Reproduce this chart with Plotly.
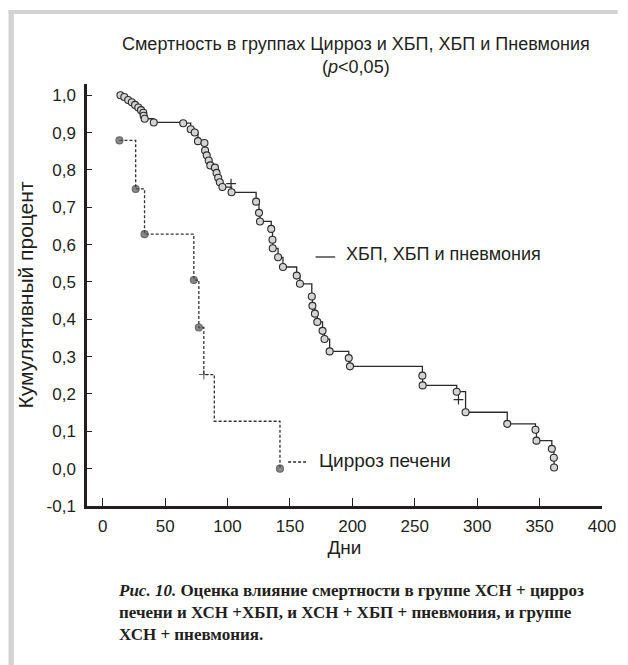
import plotly.graph_objects as go

# ---------------- data ----------------
# ХБП, ХБП и пневмония (Kaplan-Meier: day of event, cumulative survival after event)
ckd_days = [14.2, 17.3, 20.4, 23.3, 25.9, 28.5, 30.7, 32.5, 32.8, 33.6, 40.9,
            64.5, 70.5, 73.7, 76.3, 81.5, 82.0, 83.3, 84.9, 86.2, 89.9, 91.2,
            92.5, 93.8, 95.9, 103.2, 122.9, 125.2, 126.0, 135.0, 136.0, 136.2,
            140.5, 144.4, 155.4, 158.0, 167.5, 168.0, 170.0, 171.9, 176.1,
            177.7, 181.8, 197.1, 198.1, 256.1, 256.3, 283.6, 290.7, 324.1,
            346.7, 347.5, 359.8, 361.4, 361.6]
ckd_surv = [1.000, 0.995, 0.987, 0.981, 0.974, 0.967, 0.960, 0.953, 0.945, 0.937,
            0.927, 0.925, 0.909, 0.900, 0.877, 0.872, 0.852, 0.839, 0.825, 0.812,
            0.806, 0.792, 0.779, 0.767, 0.754, 0.740, 0.715, 0.685, 0.662, 0.642,
            0.613, 0.590, 0.566, 0.540, 0.517, 0.495, 0.461, 0.436, 0.415, 0.393,
            0.369, 0.347, 0.314, 0.296, 0.274, 0.249, 0.223, 0.206, 0.151, 0.120,
            0.104, 0.075, 0.053, 0.029, 0.003]
ckd_censored_days = [102.8, 285.0]
ckd_censored_surv = [0.763, 0.185]

# Цирроз печени
cir_days = [13.4, 26.4, 33.5, 73.0, 77.0, 81.0, 89.4, 142.0]
cir_surv = [0.879, 0.749, 0.628, 0.505, 0.378, 0.252, 0.127, 0.000]
cir_symbols = ["circle", "circle", "circle", "circle", "circle", "cross-thin", None, "circle"]

x_ticks = [0, 50, 100, 150, 200, 250, 300, 350, 400]
y_ticks = [-0.1, 0.0, 0.1, 0.2, 0.3, 0.4, 0.5, 0.6, 0.7, 0.8, 0.9, 1.0]
y_tick_text = ["-0,1", "0,0", "0,1", "0,2", "0,3", "0,4", "0,5", "0,6", "0,7", "0,8", "0,9", "1,0"]

title_text = "Смертность в группах Цирроз и ХБП, ХБП и Пневмония<br>(<i>p</i><0,05)"
x_title = "Дни"
y_title = "Кумулятивный процент"
legend_ckd = "ХБП, ХБП и пневмония"
legend_cir = "Цирроз печени"
caption = ("<b><i>Рис. 10.</i> Оценка влияние смертности в группе ХСН + цирроз<br>"
           "печени и ХСН +ХБП, и ХСН + ХБП + пневмония, и группе<br>"
           "ХСН + пневмония.</b>")

# ---------------- layout geometry ----------------
W, H = 628, 665
L, R, T, B = 87, 16, 84, 159
PW, PH = W - L - R, H - T - B

def px(x):
    return (x - L) / PW

def py(y):
    return (H - B - y) / PH

INK = "#231f20"
SANS = "Liberation Sans, Arial, sans-serif"

fig = go.Figure()

# Cirrhosis curve (dashed)
fig.add_trace(go.Scatter(
    x=cir_days, y=cir_surv, mode="lines", line_shape="hv",
    line=dict(color="#333333", width=1.3, dash="3px,2px"),
    showlegend=False, hoverinfo="skip"))
cir_mx = [d for d, s in zip(cir_days, cir_symbols) if s]
cir_my = [v for v, s in zip(cir_surv, cir_symbols) if s]
cir_ms = [s for s in cir_symbols if s]
fig.add_trace(go.Scatter(
    x=cir_mx, y=cir_my, mode="markers",
    marker=dict(symbol=cir_ms, size=[7 if s == "circle" else 7 for s in cir_ms],
                color="#555555", line=dict(color="#2a2a2a", width=1.1)),
    showlegend=False))

# CKD curve (solid)
fig.add_trace(go.Scatter(
    x=ckd_days, y=ckd_surv, mode="lines+markers", line_shape="hv",
    line=dict(color="#2b2b2b", width=1.3),
    marker=dict(symbol="circle", size=7, color="#d4d4d4",
                line=dict(color="#2b2b2b", width=1.1)),
    showlegend=False))
fig.add_trace(go.Scatter(
    x=ckd_censored_days, y=ckd_censored_surv, mode="markers",
    marker=dict(symbol="cross-thin", size=7, line=dict(color="#2b2b2b", width=1.2)),
    showlegend=False))

# legend samples
shapes = [
    dict(type="line", xref="paper", yref="paper", x0=px(320), x1=px(340),
         y0=py(257), y1=py(257), line=dict(color="#2b2b2b", width=1.3)),
    dict(type="line", xref="paper", yref="paper", x0=px(292), x1=px(312),
         y0=py(462), y1=py(462), line=dict(color="#2b2b2b", width=1.3, dash="3px,2px")),
    # page frame (light grey)
    dict(type="rect", xref="paper", yref="paper", x0=px(7), x1=px(12.5),
         y0=py(H), y1=py(10), fillcolor="#d3d3d3", line=dict(width=0), layer="below"),
    dict(type="rect", xref="paper", yref="paper", x0=px(7), x1=px(W),
         y0=py(14), y1=py(10), fillcolor="#d3d3d3", line=dict(width=0), layer="below"),
]

annotations = [
    dict(text=legend_ckd, xref="paper", yref="paper", x=px(349), y=py(254),
         xanchor="left", yanchor="middle", showarrow=False,
         font=dict(family=SANS, size=18, color=INK)),
    dict(text=legend_cir, xref="paper", yref="paper", x=px(321), y=py(460),
         xanchor="left", yanchor="middle", showarrow=False,
         font=dict(family=SANS, size=19, color=INK)),
    dict(text=title_text, xref="paper", yref="paper", x=px(361), y=py(56),
         xanchor="center", yanchor="middle", showarrow=False, align="center",
         font=dict(family=SANS, size=18, color=INK)),
    dict(text=caption, xref="paper", yref="paper", x=px(117), y=py(579),
         xanchor="left", yanchor="top", showarrow=False, align="left",
         font=dict(family="Liberation Serif, Times New Roman, serif", size=17, color=INK)),
]

fig.update_layout(
    width=W, height=H,
    margin=dict(l=L, r=R, t=T, b=B, pad=0),
    paper_bgcolor="white", plot_bgcolor="white",
    font=dict(family=SANS, color=INK),
    shapes=shapes, annotations=annotations,
    xaxis=dict(range=[-12.6, 400], tickvals=x_ticks, ticks="inside", ticklen=8,
               tickwidth=1, tickcolor=INK, showline=True, linewidth=2.5, linecolor=INK,
               showgrid=False, zeroline=False, tickfont=dict(size=17, color=INK),
               ticklabelstandoff=3,
               title=dict(text=x_title, font=dict(size=19, color=INK), standoff=6)),
    yaxis=dict(range=[-0.1, 1.03], tickvals=y_ticks, ticktext=y_tick_text,
               ticks="inside", ticklen=5, tickwidth=1, tickcolor=INK,
               showline=True, linewidth=2.5, linecolor=INK,
               showgrid=False, zeroline=False, tickfont=dict(size=17, color=INK),
               ticklabelstandoff=5,
               title=dict(text=y_title, font=dict(size=21, color=INK), standoff=8)),
)

fig.write_html("out.html")
